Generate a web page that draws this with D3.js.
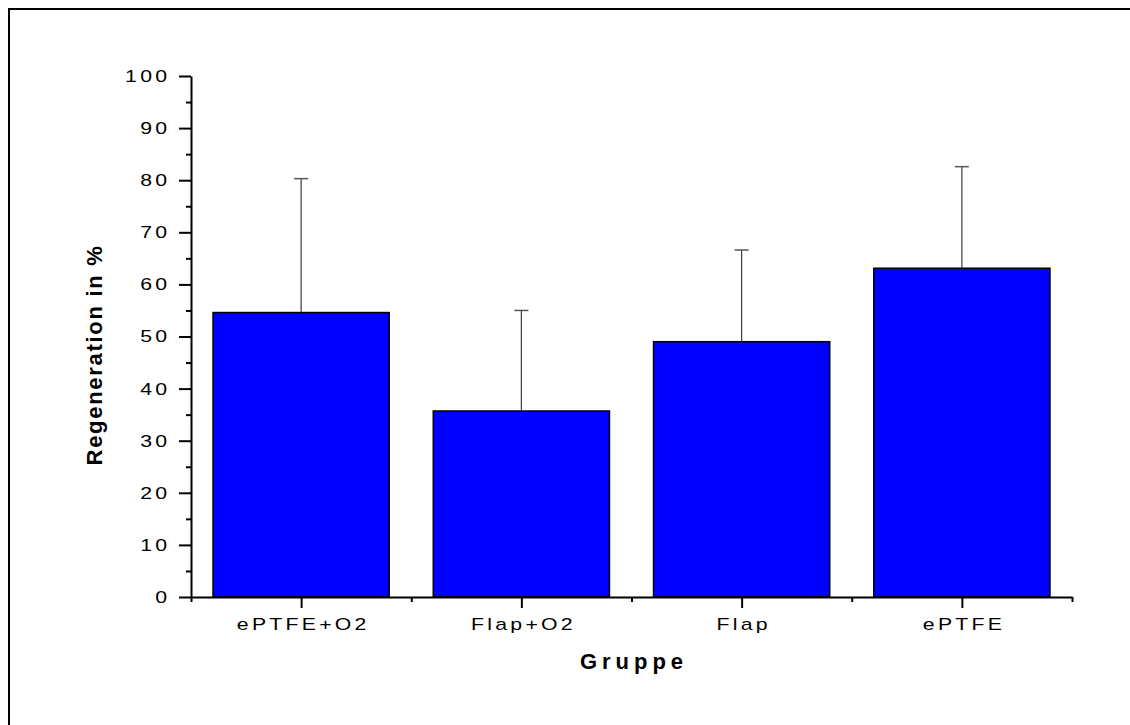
<!DOCTYPE html>
<html>
<head>
<meta charset="utf-8">
<script src="https://cdn.jsdelivr.net/npm/d3@7"></script>
<style>
  body { margin: 0; background: #fff; }
  svg text { font-family: "Liberation Sans", Arial, sans-serif; fill: #000; }
</style>
</head>
<body>
<div id="chart"></div>
<script>
const width = 1130;
const height = 725;

const groups = ['ePTFE+O2', 'Flap+O2', 'Flap', 'ePTFE'];
const means = [54.6, 35.7, 49.0, 63.1];
const errors = [25.7, 19.3, 17.6, 19.5];
const yTicks = [0, 10, 20, 30, 40, 50, 60, 70, 80, 90, 100];

const plot = { left: 191, right: 1072, top: 76, bottom: 597 };
// the tick font in the original is a horizontally stretched Arial
const stretch = 1.25;
const tickSpacing = 2.6;

const svg = d3.select('#chart')
  .append('svg')
  .attr('width', width)
  .attr('height', height);

// outer frame (only top and left edges fall inside the picture)
svg.append('path')
  .attr('d', `M9,${height + 5}V9H${width + 5}`)
  .attr('fill', 'none')
  .attr('stroke', '#000')
  .attr('stroke-width', 2);

// x runs 0.5 .. 4.5, groups sit on 1..4
const xScale = d3.scaleLinear()
  .domain([0.5, groups.length + 0.5])
  .range([plot.left, plot.right]);

const yScale = d3.scaleLinear()
  .domain([0, 100])
  .range([plot.bottom, plot.top]);

const barWidth = (xScale(2) - xScale(1)) * 0.8;

// bars
svg.append('g')
  .selectAll('rect')
  .data(means)
  .enter()
  .append('rect')
  .attr('x', (d, i) => xScale(i + 1) - barWidth / 2)
  .attr('y', (d) => yScale(d))
  .attr('width', barWidth)
  .attr('height', (d) => yScale(0) - yScale(d))
  .attr('fill', '#0000ff')
  .attr('stroke', '#000')
  .attr('stroke-width', 1.5);

// error bars (upper only)
const err = svg.append('g')
  .selectAll('g')
  .data(means)
  .enter()
  .append('g');

err.append('line')
  .attr('x1', (d, i) => xScale(i + 1))
  .attr('x2', (d, i) => xScale(i + 1))
  .attr('y1', (d) => yScale(d))
  .attr('y2', (d, i) => yScale(d + errors[i]))
  .attr('stroke', '#3a3a3a')
  .attr('stroke-width', 1.2);

err.append('line')
  .attr('x1', (d, i) => xScale(i + 1) - 7)
  .attr('x2', (d, i) => xScale(i + 1) + 7)
  .attr('y1', (d, i) => yScale(d + errors[i]))
  .attr('y2', (d, i) => yScale(d + errors[i]))
  .attr('stroke', '#555')
  .attr('stroke-width', 1.5);

// y axis
const yAxis = d3.axisLeft(yScale)
  .tickValues(yTicks)
  .tickSize(12)
  .tickPadding(6)
  .tickSizeOuter(0);

const yG = svg.append('g')
  .attr('transform', `translate(${plot.left}, 0)`)
  .call(yAxis);

yG.selectAll('.tick line').attr('stroke-width', 2);
yG.select('.domain').attr('stroke-width', 2);

const yMinor = d3.axisLeft(yScale)
  .tickValues(d3.range(5, 100, 10))
  .tickSize(5)
  .tickFormat('')
  .tickSizeOuter(0);

const yMinorG = svg.append('g')
  .attr('transform', `translate(${plot.left}, 0)`)
  .call(yMinor);
yMinorG.select('.domain').remove();
yMinorG.selectAll('.tick line').attr('stroke-width', 2);

// x axis
const xAxis = d3.axisBottom(xScale)
  .tickValues(d3.range(1, groups.length + 1))
  .tickFormat((d) => groups[d - 1])
  .tickSize(11)
  .tickPadding(10)
  .tickSizeOuter(0);

const xG = svg.append('g')
  .attr('transform', `translate(0, ${plot.bottom})`)
  .call(xAxis);
xG.selectAll('.tick line').attr('stroke-width', 2);
xG.select('.domain').attr('stroke-width', 2);

const xMinor = d3.axisBottom(xScale)
  .tickValues(d3.range(0.5, groups.length + 1, 1))
  .tickSize(5)
  .tickFormat('')
  .tickSizeOuter(0);

const xMinorG = svg.append('g')
  .attr('transform', `translate(0, ${plot.bottom})`)
  .call(xMinor);
xMinorG.select('.domain').remove();
xMinorG.selectAll('.tick line').attr('stroke-width', 2);

svg.selectAll('.tick text')
  .attr('font-size', 17)
  .attr('transform', `scale(${stretch}, 1)`)
  .style('letter-spacing', `${tickSpacing}px`)
  .style('font-family', '"Liberation Sans", Arial, sans-serif');

// undo the stretch on the label anchors and the trailing letter spacing
xG.selectAll('.tick text').attr('dx', tickSpacing / 2);
yG.selectAll('.tick text').attr('x', -24 / stretch + tickSpacing);

// axis titles
svg.append('text')
  .attr('x', (plot.left + plot.right) / 2 + 2.5)
  .attr('y', 669)
  .attr('text-anchor', 'middle')
  .attr('font-size', 22)
  .attr('font-weight', 'bold')
  .style('letter-spacing', '5px')
  .text('Gruppe');

svg.append('text')
  .attr('transform', 'translate(102, 355) rotate(-90)')
  .attr('text-anchor', 'middle')
  .attr('font-size', 22)
  .attr('font-weight', 'bold')
  .style('letter-spacing', '1.7px')
  .text('Regeneration in %');
</script>
</body>
</html>
